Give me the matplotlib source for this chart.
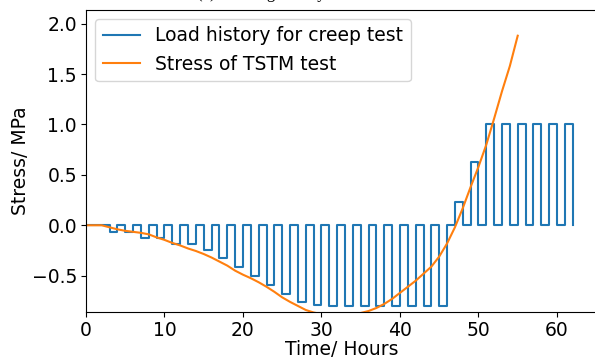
import numpy as np
import matplotlib
matplotlib.use("Agg")
import matplotlib.pyplot as plt

# Creep test load history: each cycle is 1 h loaded, 1 h unloaded, starting at t = 3 h
cycle_start_h = 3
cycle_period_h = 2
load_duration_h = 1
load_levels_mpa = [-0.065, -0.065, -0.125, -0.125, -0.185, -0.185, -0.25, -0.325,
                   -0.41, -0.50, -0.59, -0.68, -0.76, -0.79, -0.80, -0.80,
                   -0.80, -0.80, -0.80, -0.80, -0.80, -0.80,
                   0.23, 0.63, 1.0, 1.0, 1.0, 1.0, 1.0, 1.0]

# Measured stress in the TSTM test (hourly readings)
tstm_time_h = list(range(0, 56))
tstm_stress_mpa = [0.0, 0.0, 0.0, -0.02, -0.04, -0.055, -0.065, -0.075, -0.09, -0.12,
                   -0.145, -0.175, -0.20, -0.23, -0.255, -0.285, -0.32, -0.36, -0.40, -0.45,
                   -0.49, -0.525, -0.565, -0.61, -0.66, -0.715, -0.76, -0.80, -0.84, -0.865,
                   -0.88, -0.885, -0.89, -0.89, -0.885, -0.87, -0.85, -0.82, -0.78, -0.73,
                   -0.67, -0.61, -0.55, -0.48, -0.41, -0.31, -0.18, -0.02, 0.17, 0.38,
                   0.58, 0.80, 1.06, 1.33, 1.58, 1.88]

# Build the step series of the load history
t_pts = [0.0]
s_pts = [0.0]
for i, lvl in enumerate(load_levels_mpa):
    t0 = cycle_start_h + i * cycle_period_h
    t1 = t0 + load_duration_h
    t_pts += [t0, t0, t1, t1]
    s_pts += [0.0, lvl, lvl, 0.0]

FS = 13.5

fig = plt.figure(figsize=(5.95, 3.58), dpi=100)
ax = fig.add_axes([86 / 595, 46 / 358, 511 / 595, 302.5 / 358])

ax.plot(t_pts, s_pts, color="#1f77b4", lw=1.5, label="Load history for creep test")
ax.plot(tstm_time_h, tstm_stress_mpa, color="#ff7f0e", lw=1.5, label="Stress of TSTM test")

ax.set_xlim(0, 65.1)
ax.set_ylim(-0.86, 2.14)
ax.set_xticks([0, 10, 20, 30, 40, 50, 60])
ax.set_yticks([-0.5, 0.0, 0.5, 1.0, 1.5, 2.0])
ax.tick_params(labelsize=FS, pad=3)
ax.set_xlabel("Time/ Hours", fontsize=FS, labelpad=0)
ax.set_ylabel("Stress/ MPa", fontsize=FS, labelpad=1.5)
ax.legend(loc="upper left", fontsize=FS)

fig.text(197 / 595, 1.0 + 2.0 / 358, "(a) Loading history", fontsize=12,
         family="Liberation Serif", ha="left", va="baseline")

fig.savefig("out.png", dpi=100)
